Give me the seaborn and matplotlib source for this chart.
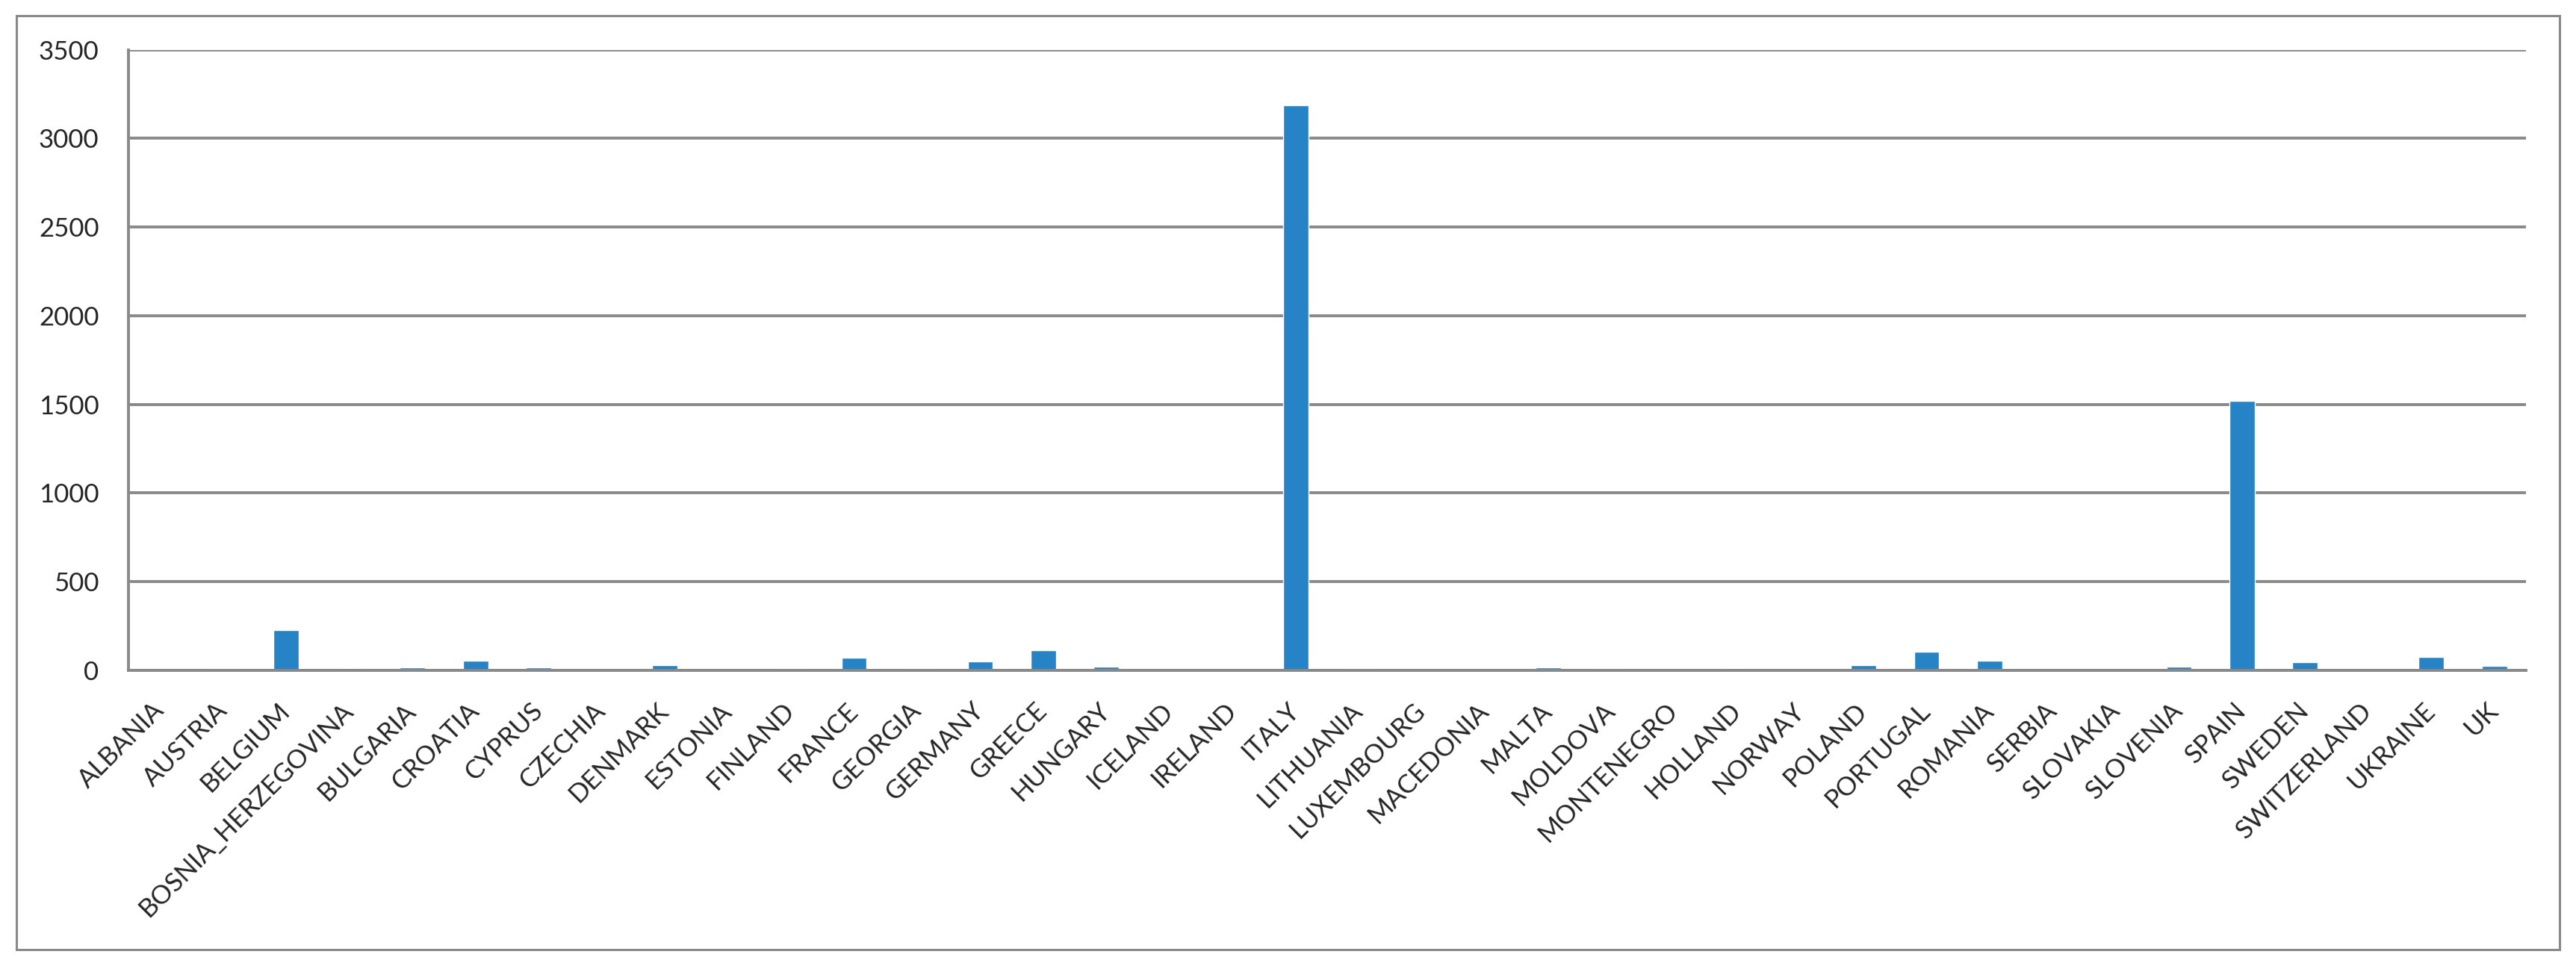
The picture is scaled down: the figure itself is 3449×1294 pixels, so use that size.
import numpy as np
import pandas as pd
import matplotlib.pyplot as plt
import seaborn as sns
from matplotlib.patches import Rectangle

# dados
countries = ["ALBANIA", "AUSTRIA", "BELGIUM", "BOSNIA_HERZEGOVINA", "BULGARIA",
             "CROATIA", "CYPRUS", "CZECHIA", "DENMARK", "ESTONIA", "FINLAND",
             "FRANCE", "GEORGIA", "GERMANY", "GREECE", "HUNGARY", "ICELAND",
             "IRELAND", "ITALY", "LITHUANIA", "LUXEMBOURG", "MACEDONIA", "MALTA",
             "MOLDOVA", "MONTENEGRO", "HOLLAND", "NORWAY", "POLAND", "PORTUGAL",
             "ROMANIA", "SERBIA", "SLOVAKIA", "SLOVENIA", "SPAIN", "SWEDEN",
             "SWITZERLAND", "UKRAINE", "UK"]
values = [0, 4, 228, 13, 17,
          55, 17, 0, 30, 0, 4,
          72, 4, 51, 114, 21, 0,
          0, 3186, 4, 0, 0, 17,
          4, 0, 13, 0, 30, 106,
          55, 0, 0, 21, 1520, 46,
          0, 76, 25]
y_ticks = [0, 500, 1000, 1500, 2000, 2500, 3000, 3500]

df = pd.DataFrame({"country": countries, "value": values})

sns.set_style("white")
plt.rcParams["font.family"] = ["Lato", "DejaVu Sans"]

GRAY = "#898989"
W, H = 3449, 1294
fig = plt.figure(figsize=(W / 100, H / 100), dpi=100)
ax = fig.add_axes([172 / W, 1 - 898 / H, (3382 - 172) / W, (898 - 66.7) / H])

sns.barplot(data=df, x="country", y="value", color="#2683c6", width=0.4,
            saturation=1, ax=ax)

ax.set_xlim(-0.5, len(countries) - 0.5)
ax.set_ylim(0, 3500)
ax.set_yticks(y_ticks)
ax.set_xlabel("")
ax.set_ylabel("")

# grade e eixos
ax.yaxis.grid(True, color=GRAY, lw=2.8)
ax.set_axisbelow(True)
for s in ["top", "right"]:
    ax.spines[s].set_visible(False)
for s in ["left", "bottom"]:
    ax.spines[s].set_color(GRAY)
    ax.spines[s].set_linewidth(2.8)

# rótulos do eixo x (45 graus, terminando no centro da categoria)
ax.set_xticks(range(len(countries)))
ax.set_xticklabels(countries)
ax.set_xticks(np.arange(-0.5, len(countries)), minor=True)
ax.tick_params(axis="x", which="major", length=0, pad=35, labelsize=25)
ax.tick_params(axis="x", which="minor", length=10.8, width=2, color=GRAY,
               direction="out")
for lbl in ax.get_xticklabels():
    lbl.set_rotation(45)
    lbl.set_ha("right")
    lbl.set_va("center")
    lbl.set_rotation_mode("anchor")
ax.tick_params(axis="y", length=9.4, width=2.8, color=GRAY, direction="out",
               labelsize=25, pad=19)

# moldura externa
fig.patches.append(Rectangle((22 / W, 1 - 1272 / H), (3427 - 22) / W,
                             (1272 - 21) / H, transform=fig.transFigure,
                             fill=False, ec=GRAY, lw=2.2))

fig.savefig("out.png", dpi=100)
